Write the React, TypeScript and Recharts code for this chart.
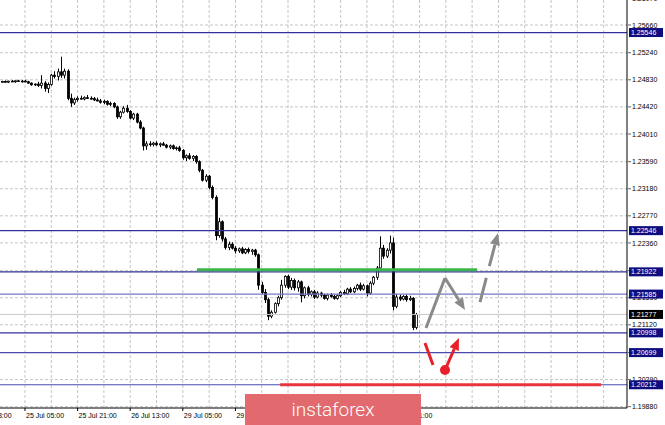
import {
  ComposedChart,
  Bar,
  XAxis,
  YAxis,
  CartesianGrid,
  ReferenceLine,
  ReferenceDot,
} from "recharts";

// EURUSD-style H1 candles, one entry per bar
const opens = [
  1.248, 1.24805, 1.24795, 1.2481, 1.248, 1.24815, 1.24805, 1.2481, 1.248, 1.2478,
  1.24755, 1.24765, 1.24745, 1.2478, 1.247, 1.2476, 1.249, 1.2488, 1.2495, 1.249,
  1.2496, 1.2455, 1.2448, 1.2453, 1.2455, 1.2454, 1.2456, 1.2455, 1.24545, 1.24525,
  1.2451, 1.2449, 1.245, 1.2446, 1.2447, 1.2442, 1.2427, 1.2434, 1.244, 1.2435,
  1.2425, 1.2431, 1.2419, 1.241, 1.2383, 1.2386, 1.2385, 1.2387, 1.23845, 1.2386,
  1.2384, 1.2381, 1.2383, 1.2379, 1.238, 1.2376, 1.2365, 1.2368, 1.2364, 1.2367,
  1.2359, 1.2346, 1.2331, 1.2337, 1.232, 1.2305, 1.2247, 1.2268, 1.2242, 1.2229,
  1.2234, 1.2228, 1.2224, 1.2227, 1.2221, 1.2226, 1.2223, 1.2225, 1.2218, 1.2172,
  1.2161, 1.215, 1.2125, 1.2131, 1.2144, 1.2153, 1.2172, 1.2185, 1.2169, 1.2179,
  1.2168, 1.2177, 1.2156, 1.2168, 1.2158, 1.2162, 1.2154, 1.216, 1.2157, 1.2152,
  1.2157, 1.2155, 1.2152, 1.2156, 1.2161, 1.2159, 1.2166, 1.2162, 1.2167, 1.2172,
  1.2166, 1.2171, 1.216, 1.2175, 1.2184, 1.2198, 1.2228, 1.2216, 1.2225, 1.2236,
  1.214, 1.2154, 1.2151, 1.2155, 1.215, 1.2152, 1.2108,
];
const highs = [
  1.24815, 1.2482, 1.24815, 1.24825, 1.2482, 1.2483, 1.24825, 1.2483, 1.24815, 1.2479,
  1.24775, 1.248, 1.249, 1.2481, 1.2479, 1.2492, 1.2496, 1.25, 1.2518, 1.25,
  1.2499, 1.2462, 1.2456, 1.2458, 1.2459, 1.2458, 1.246, 1.2458, 1.2457, 1.2456,
  1.2454, 1.2453, 1.2452, 1.245, 1.2449, 1.2444, 1.2436, 1.2443, 1.2445, 1.2437,
  1.2433, 1.2433, 1.2422, 1.2412, 1.239, 1.239, 1.2389, 1.239, 1.2388, 1.2389,
  1.2386, 1.2385, 1.2385, 1.2382, 1.2383, 1.2378, 1.237, 1.2372, 1.2369, 1.2369,
  1.2361, 1.2348, 1.234, 1.2339, 1.2323, 1.2308, 1.2274, 1.227, 1.2245, 1.2238,
  1.2237, 1.2231, 1.2229, 1.223, 1.2228, 1.2229, 1.2227, 1.2227, 1.222, 1.2177,
  1.2166, 1.2153, 1.2134, 1.2146, 1.2156, 1.218, 1.2187, 1.2188, 1.2183, 1.2182,
  1.218, 1.2179, 1.217, 1.2171, 1.2164, 1.2165, 1.2163, 1.2162, 1.2159, 1.2159,
  1.216, 1.2158, 1.2158, 1.2163, 1.2165, 1.2168, 1.2169, 1.217, 1.2174, 1.2176,
  1.2174, 1.2173, 1.2178, 1.2186, 1.2201, 1.2246, 1.2233, 1.2228, 1.2247, 1.2244,
  1.2159, 1.2158, 1.2157, 1.2158, 1.2156, 1.2154, 1.213,
];
const lows = [
  1.24785, 1.2479, 1.2478, 1.24795, 1.24785, 1.248, 1.2479, 1.24795, 1.2477, 1.2474,
  1.24735, 1.2472, 1.247, 1.2465, 1.2463, 1.2474, 1.2485, 1.2482, 1.2486, 1.2485,
  1.2452, 1.2442, 1.2445, 1.245, 1.2453, 1.2452, 1.2454, 1.2453, 1.2451, 1.245,
  1.2447, 1.2446, 1.2444, 1.2443, 1.244, 1.2424, 1.2424, 1.2432, 1.2433, 1.2423,
  1.2422, 1.2417, 1.2408, 1.2376, 1.2377, 1.2382, 1.2382, 1.2383, 1.2381, 1.2383,
  1.2379, 1.2378, 1.2377, 1.2376, 1.2374, 1.2362, 1.236, 1.2362, 1.236, 1.2356,
  1.2343, 1.2329, 1.2328, 1.2317, 1.2302, 1.224, 1.2244, 1.2238, 1.2226, 1.2225,
  1.2226, 1.222, 1.2221, 1.2219, 1.2219, 1.222, 1.2218, 1.2215, 1.2165, 1.2158,
  1.2145, 1.2119, 1.2122, 1.2129, 1.214, 1.215, 1.2168, 1.2166, 1.2165, 1.2164,
  1.2162, 1.2146, 1.2152, 1.2155, 1.2155, 1.2151, 1.2152, 1.2154, 1.215, 1.2149,
  1.2153, 1.215, 1.215, 1.2154, 1.2157, 1.2157, 1.216, 1.216, 1.2164, 1.2163,
  1.2164, 1.2155, 1.2158, 1.2172, 1.218, 1.2195, 1.2212, 1.2213, 1.222, 1.2134,
  1.2137, 1.2148, 1.2149, 1.2147, 1.2148, 1.2104, 1.2105,
];
const closes = [
  1.24805, 1.24795, 1.2481, 1.248, 1.24815, 1.24805, 1.2481, 1.248, 1.2478, 1.24755,
  1.24765, 1.24745, 1.2478, 1.247, 1.2476, 1.249, 1.2488, 1.2495, 1.249, 1.2496,
  1.2455, 1.2448, 1.2453, 1.2455, 1.2454, 1.2456, 1.2455, 1.24545, 1.24525, 1.2451,
  1.2449, 1.245, 1.2446, 1.2447, 1.2442, 1.2427, 1.2434, 1.244, 1.2435, 1.2425,
  1.2431, 1.2419, 1.241, 1.2383, 1.2386, 1.2385, 1.2387, 1.23845, 1.2386, 1.2384,
  1.2381, 1.2383, 1.2379, 1.238, 1.2376, 1.2365, 1.2368, 1.2364, 1.2367, 1.2359,
  1.2346, 1.2331, 1.2337, 1.232, 1.2305, 1.2247, 1.2268, 1.2242, 1.2229, 1.2234,
  1.2228, 1.2224, 1.2227, 1.2221, 1.2226, 1.2223, 1.2225, 1.2218, 1.2172, 1.2161,
  1.215, 1.2125, 1.2131, 1.2144, 1.2153, 1.2172, 1.2185, 1.2169, 1.2179, 1.2168,
  1.2177, 1.2156, 1.2168, 1.2158, 1.2162, 1.2154, 1.216, 1.2157, 1.2152, 1.2157,
  1.2155, 1.2152, 1.2156, 1.2161, 1.2159, 1.2166, 1.2162, 1.2167, 1.2172, 1.2166,
  1.2171, 1.216, 1.2175, 1.2184, 1.2198, 1.2228, 1.2216, 1.2225, 1.2236, 1.214,
  1.2154, 1.2151, 1.2155, 1.215, 1.2152, 1.2108, 1.21277,
];

// time axis: bar index of each label
const timeLabelBars = [-9, 7, 23, 39, 55, 71, 87, 103, 119];
const timeLabels = [
  "24 Jul 13:00", "25 Jul 05:00", "25 Jul 21:00", "26 Jul 13:00", "29 Jul 05:00",
  "29 Jul 21:00", "30 Jul 13:00", "31 Jul 05:00", "31 Jul 21:00",
];
const priceTicks = [
  1.1988, 1.2029, 1.207, 1.2112, 1.2153, 1.2194, 1.2236, 1.2277, 1.2318, 1.2359,
  1.2401, 1.2442, 1.2483, 1.2524, 1.2566, 1.2607,
];
const levelPrices = [1.25546, 1.22546, 1.21922, 1.21585, 1.20998, 1.20699, 1.20212];
const bidPrice = 1.21277;

// drawn levels / scenario arrows (bar index, price)
const greenLevel = { from: 59.3, to: 144.5, price: 1.21955 };
const redLevel = { from: 84.6, to: 182.2, price: 1.20212 };
const grayPath = [
  { x: 128.97, y: 1.21071 },
  { x: 134.75, y: 1.21829 },
  { x: 140.83, y: 1.21344 },
];
const grayDashed = [
  { x: 145.39, y: 1.21465 },
  { x: 150.87, y: 1.2251 },
];
const redStroke = [
  { x: 128.66, y: 1.20844 },
  { x: 131.1, y: 1.20511 },
];
const redArrow = [
  { x: 134.75, y: 1.20435 },
  { x: 139.0, y: 1.2092 },
];

const candles = opens.map((o, i) => ({ i, o, h: highs[i], l: lows[i], c: closes[i] }));
const gridBars = Array.from({ length: 24 }, (_, k) => -1 + 8 * k);

const levelColor = (p: number) =>
  p === 1.21585 ? "#7676c6" : p === 1.20699 || p === 1.20212 ? "#4a4aae" : "#30309a";

const Candle = (props: any) => {
  const { x, y, width, height, payload } = props;
  const { o, h, l, c } = payload;
  const top = Math.min(y, y + height);
  const hh = Math.abs(height);
  const cx = Math.round(x + width / 2) + 0.5;
  const span = h - l || 1e-9;
  const py = (v: number) => top + ((h - v) / span) * hh;
  const bTop = py(Math.max(o, c));
  const bBot = py(Math.min(o, c));
  const up = c >= o;
  return (
    <g>
      <line x1={cx} x2={cx} y1={top} y2={top + hh} stroke="#000" strokeWidth={1} />
      <rect
        x={cx - 1}
        y={bTop}
        width={2}
        height={Math.max(bBot - bTop, 0.8)}
        fill={up ? "#fff" : "#000"}
        stroke="#000"
        strokeWidth={0.8}
      />
    </g>
  );
};

const PriceTick = ({ x, y, payload }: any) => {
  const v = payload.value;
  const isBid = v === bidPrice;
  const isLevel = levelPrices.includes(v);
  if (isBid || isLevel) {
    return (
      <g>
        <rect x={x + 2} y={y - 4.5} width={34} height={9} fill={isBid ? "#000" : "#0d0d80"} />
        <text x={x + 4} y={y + 2.6} fontSize={7} fill="#fff">
          {v.toFixed(5)}
        </text>
      </g>
    );
  }
  return (
    <g>
      <line x1={x + 1} x2={x + 4} y1={y} y2={y} stroke="#666" />
      <text x={x + 5} y={y + 2.6} fontSize={7} fill="#000">
        {v.toFixed(5)}
      </text>
    </g>
  );
};

const TimeTick = ({ x, y, payload }: any) => {
  const idx = timeLabelBars.indexOf(payload.value);
  return (
    <g>
      <line x1={x} x2={x} y1={y} y2={y + 3} stroke="#000" />
      <text x={x + 1} y={y + 10} fontSize={7} fill="#000">
        {timeLabels[idx]}
      </text>
    </g>
  );
};

const arrowShape =
  (color: string, w: number, head: boolean, dash?: string) => (p: any) => {
    const { x1, y1, x2, y2 } = p;
    const ang = Math.atan2(y2 - y1, x2 - x1);
    const hl = 12;
    const hw = 5;
    const bx = x2 - hl * Math.cos(ang);
    const by = y2 - hl * Math.sin(ang);
    const ox = -Math.sin(ang) * hw;
    const oy = Math.cos(ang) * hw;
    return (
      <g>
        <line
          x1={x1}
          y1={y1}
          x2={head ? bx : x2}
          y2={head ? by : y2}
          stroke={color}
          strokeWidth={w}
          strokeDasharray={dash}
        />
        {head && (
          <polygon points={`${x2},${y2} ${bx + ox},${by + oy} ${bx - ox},${by - oy}`} fill={color} />
        )}
      </g>
    );
  };

export default function App() {
  return (
    <div
      style={{
        position: "absolute",
        left: 0,
        top: -10,
        width: 665,
        height: 435,
        background: "#fff",
        fontFamily: "'Liberation Sans', Arial, sans-serif",
      }}
    >
      <ComposedChart
        width={665}
        height={435}
        data={candles}
        margin={{ top: 0, right: 0, left: 0, bottom: 0 }}
      >
        <CartesianGrid
          stroke="#c4c4c4"
          strokeDasharray="3 2"
          horizontalValues={priceTicks}
          verticalValues={gridBars}
        />
        <XAxis
          dataKey="i"
          type="number"
          domain={[-0.6, 190.1]}
          allowDataOverflow
          ticks={timeLabelBars}
          interval={0}
          height={17}
          tickSize={0}
          tickMargin={0}
          tick={<TimeTick />}
          axisLine={{ stroke: "#000" }}
          tickLine={false}
        />
        <YAxis
          orientation="right"
          type="number"
          domain={[1.1986, 1.2619]}
          allowDataOverflow
          ticks={[...priceTicks, bidPrice, ...levelPrices]}
          interval={0}
          width={38}
          tickSize={0}
          tickMargin={0}
          tick={<PriceTick />}
          axisLine={{ stroke: "#000" }}
          tickLine={false}
        />
        {levelPrices.map((p) => (
          <ReferenceLine key={p} y={p} stroke={levelColor(p)} strokeWidth={1.2} />
        ))}
        <ReferenceLine y={bidPrice} stroke="#c8c8c8" strokeWidth={1} />
        <Bar
          dataKey={(d: any) => [d.l, d.h]}
          barSize={3}
          shape={<Candle />}
          isAnimationActive={false}
        />
        <ReferenceLine
          segment={[
            { x: greenLevel.from, y: greenLevel.price },
            { x: greenLevel.to, y: greenLevel.price },
          ]}
          stroke="#3cb44b"
          strokeWidth={3}
        />
        <ReferenceLine
          segment={[
            { x: redLevel.from, y: redLevel.price },
            { x: redLevel.to, y: redLevel.price },
          ]}
          stroke="#e8353b"
          strokeWidth={3}
        />
        <ReferenceLine segment={[grayPath[0], grayPath[1]]} shape={arrowShape("#8a8a8a", 3, false)} />
        <ReferenceLine segment={[grayPath[1], grayPath[2]]} shape={arrowShape("#8a8a8a", 3, true)} />
        <ReferenceLine
          segment={[grayDashed[0], grayDashed[1]]}
          shape={arrowShape("#8a8a8a", 3, true, "25 12")}
        />
        <ReferenceLine segment={[redStroke[0], redStroke[1]]} shape={arrowShape("#e8202a", 3, false)} />
        <ReferenceLine segment={[redArrow[0], redArrow[1]]} shape={arrowShape("#e8202a", 3, true)} />
        <ReferenceDot x={redArrow[0].x} y={redArrow[0].y} r={5} fill="#e8202a" stroke="none" />
      </ComposedChart>
      <div
        style={{
          position: "absolute",
          left: 245,
          top: 404,
          width: 176,
          height: 31,
          background: "#e2696d",
          color: "#fff",
          fontFamily: "Roboto, sans-serif",
          fontWeight: 300,
          fontSize: 19,
          lineHeight: "31px",
          textAlign: "center",
        }}
      >
        instaforex
      </div>
    </div>
  );
}
